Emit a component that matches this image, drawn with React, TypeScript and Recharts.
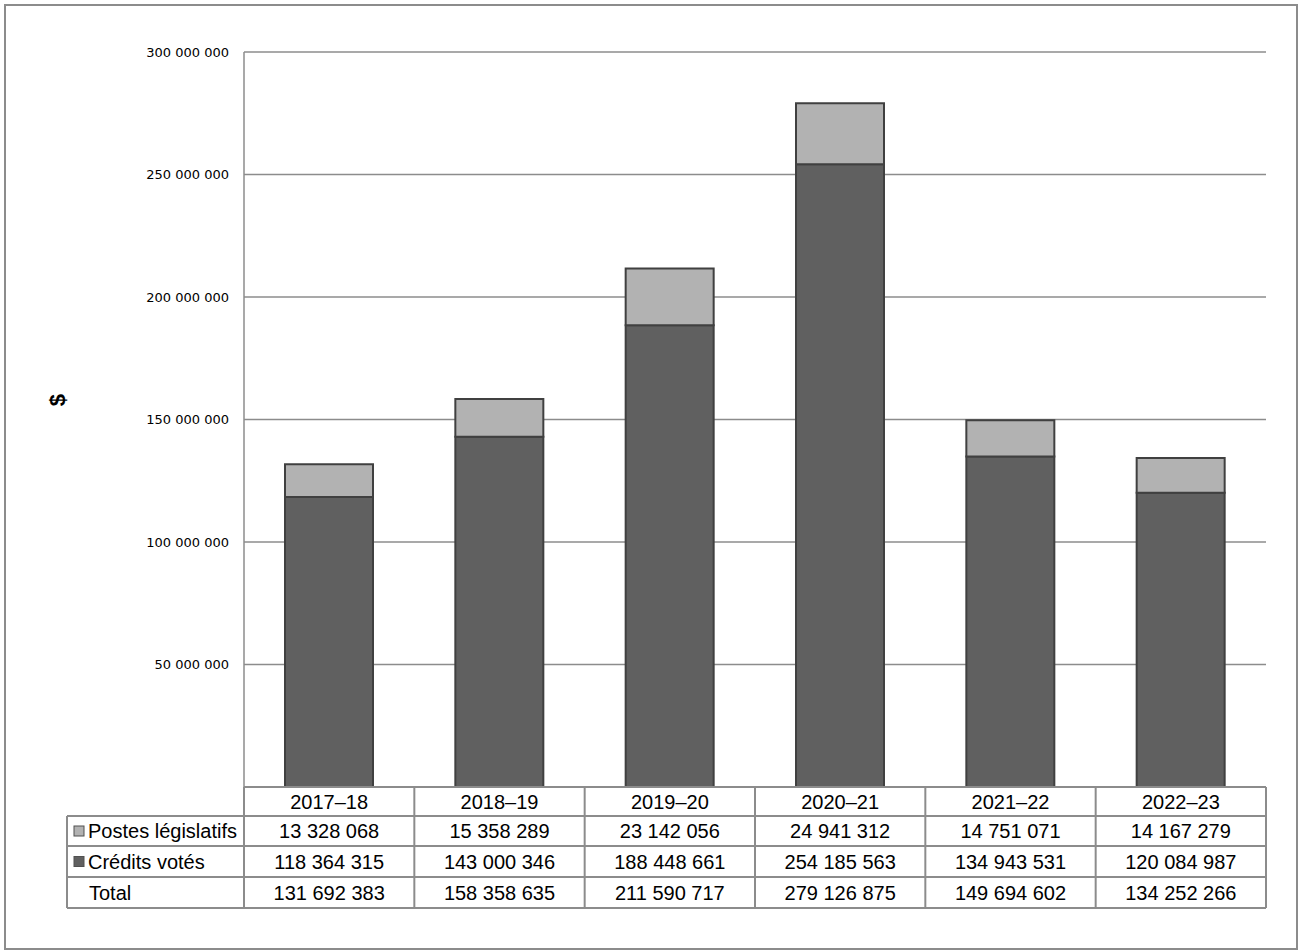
import { BarChart, Bar, XAxis, YAxis, CartesianGrid } from 'recharts';

const years = ['2017–18', '2018–19', '2019–20', '2020–21', '2021–22', '2022–23'];
const postesLegislatifs = [13328068, 15358289, 23142056, 24941312, 14751071, 14167279];
const creditsVotes = [118364315, 143000346, 188448661, 254185563, 134943531, 120084987];
const totals = [131692383, 158358635, 211590717, 279126875, 149694602, 134252266];
const yTicks = [0, 50000000, 100000000, 150000000, 200000000, 250000000, 300000000];

const LIGHT = '#b2b2b2';
const DARK = '#606060';
const GRID = '#8c8c8c';

// space-separated thousands, like the source
const fmt = (n: number) => String(n).replace(/\B(?=(\d{3})+(?!\d))/g, ' ');

const PLOT_LEFT = 244;
const PLOT_RIGHT = 1266;
const PLOT_TOP = 52;
const PLOT_BOTTOM = 787;
const COL_W = (PLOT_RIGHT - PLOT_LEFT) / years.length;
const ROWS = [787, 816, 846, 877, 908];
const TABLE_LEFT = 67;

export default function App() {
  const chartData = years.map((y, i) => ({
    year: y,
    credits: creditsVotes[i],
    postes: postesLegislatifs[i],
  }));

  const rows = [
    { label: 'Postes législatifs', swatch: LIGHT, values: postesLegislatifs },
    { label: 'Crédits votés', swatch: DARK, values: creditsVotes },
    { label: 'Total', swatch: null, values: totals },
  ];

  const font = '"Liberation Sans", Arial, sans-serif';

  return (
    <div style={{ position: 'absolute', left: 0, top: 0, width: 1299, height: 952, background: '#fff' }}>
      <BarChart
        width={1299}
        height={952}
        data={chartData}
        margin={{ top: PLOT_TOP, right: 1299 - PLOT_RIGHT, bottom: 952 - PLOT_BOTTOM, left: 0 }}
        barCategoryGap={0}
      >
        <CartesianGrid vertical={false} stroke={GRID} strokeWidth={1.5} />
        <XAxis dataKey="year" hide />
        <YAxis
          width={PLOT_LEFT}
          domain={[0, 300000000]}
          ticks={yTicks}
          interval={0}
          tickSize={0}
          tickMargin={15}
          axisLine={{ stroke: GRID, strokeWidth: 1.5 }}
          tick={{ fontSize: 13, fill: '#000', fontFamily: '"DejaVu Sans", Verdana, sans-serif' }}
          tickFormatter={(v: number) => (v === 0 ? '' : fmt(v))}
        />
        <Bar dataKey="credits" stackId="a" fill={DARK} stroke="#404040" strokeWidth={2} barSize={88} isAnimationActive={false} />
        <Bar dataKey="postes" stackId="a" fill={LIGHT} stroke="#404040" strokeWidth={2} barSize={88} isAnimationActive={false} />
      </BarChart>

      <svg width={1299} height={952} style={{ position: 'absolute', left: 0, top: 0, pointerEvents: 'none' }}>
        {/* outer frame */}
        <rect x={5} y={5} width={1292} height={944} fill="none" stroke={GRID} strokeWidth={2} />

        {/* axis title */}
        <text
          x={57}
          y={400}
          transform="rotate(-90 57 400)"
          textAnchor="middle"
          dominantBaseline="central"
          fontFamily={font}
          fontSize={22}
          fontWeight="bold"
          fill="#000"
        >
          $
        </text>

        {/* data table grid */}
        <g stroke={GRID} strokeWidth={2} fill="none">
          <line x1={PLOT_LEFT} y1={ROWS[0]} x2={PLOT_RIGHT} y2={ROWS[0]} />
          {ROWS.slice(1).map((y) => (
            <line key={y} x1={TABLE_LEFT} y1={y} x2={PLOT_RIGHT} y2={y} />
          ))}
          <line x1={TABLE_LEFT} y1={ROWS[1]} x2={TABLE_LEFT} y2={ROWS[4]} />
          {years.map((_, i) => (
            <line key={i} x1={PLOT_LEFT + i * COL_W} y1={ROWS[0]} x2={PLOT_LEFT + i * COL_W} y2={ROWS[4]} />
          ))}
          <line x1={PLOT_RIGHT} y1={ROWS[0]} x2={PLOT_RIGHT} y2={ROWS[4]} />
        </g>

        <g fontFamily={font} fontSize={20} fill="#000">
          {years.map((y, i) => (
            <text key={y} x={PLOT_LEFT + (i + 0.5) * COL_W} y={(ROWS[0] + ROWS[1]) / 2 + 7} textAnchor="middle">
              {y}
            </text>
          ))}
          {rows.map((r, ri) => {
            const cy = (ROWS[ri + 1] + ROWS[ri + 2]) / 2;
            return (
              <g key={r.label}>
                {r.swatch && (
                  <rect x={74} y={cy - 5} width={10} height={10} fill={r.swatch} stroke="#505050" strokeWidth={1} />
                )}
                <text x={r.swatch ? 88 : 89} y={cy + 7}>
                  {r.label}
                </text>
                {r.values.map((v, i) => (
                  <text key={i} x={PLOT_LEFT + (i + 0.5) * COL_W} y={cy + 7} textAnchor="middle">
                    {fmt(v)}
                  </text>
                ))}
              </g>
            );
          })}
        </g>
      </svg>
    </div>
  );
}
